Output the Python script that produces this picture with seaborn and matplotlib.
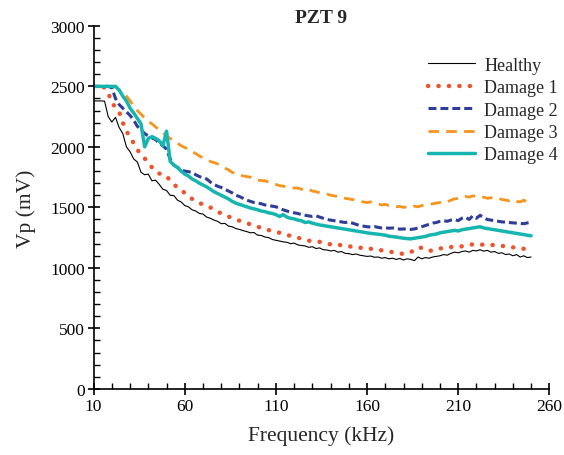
import numpy as np
import pandas as pd
import matplotlib
matplotlib.use("Agg")
import matplotlib.pyplot as plt
from matplotlib.ticker import MultipleLocator, FixedLocator
import seaborn as sns

# frequency axis, 2 kHz steps
freq = list(range(10, 252, 2))
xticks = [10, 60, 110, 160, 210, 260]

healthy = [2380, 2380, 2380, 2378, 2250, 2205, 2245, 2160, 2110, 2000,
           1960, 1900, 1875, 1790, 1770, 1775, 1720, 1725, 1690, 1650,
           1640, 1600, 1598, 1560, 1545, 1515, 1505, 1480, 1470, 1450,
           1445, 1420, 1410, 1395, 1385, 1365, 1368, 1345, 1340, 1325,
           1318, 1308, 1300, 1290, 1292, 1270, 1268, 1255, 1250, 1235,
           1228, 1222, 1215, 1212, 1200, 1205, 1190, 1185, 1182, 1170,
           1175, 1160, 1165, 1150, 1148, 1140, 1145, 1130, 1135, 1120,
           1118, 1110, 1115, 1105, 1100, 1095, 1098, 1088, 1090, 1080,
           1085, 1075, 1080, 1070, 1078, 1065, 1075, 1070, 1060, 1090,
           1075, 1085, 1080, 1090, 1095, 1100, 1110, 1105, 1120, 1130,
           1125, 1135, 1140, 1130, 1145, 1140, 1150, 1138, 1145, 1130,
           1135, 1120, 1125, 1110, 1115, 1100, 1110, 1090, 1100, 1085,
           1090]

damage1 = [2500, 2500, 2500, 2490, 2450, 2360, 2330, 2290, 2200, 2130,
           2080, 2030, 1975, 1940, 1905, 1870, 1830, 1795, 1780, 1770,
           1760, 1720, 1690, 1665, 1640, 1620, 1595, 1570, 1550, 1535,
           1525, 1510, 1500, 1480, 1465, 1450, 1438, 1425, 1410, 1400,
           1390, 1380, 1370, 1360, 1350, 1340, 1330, 1320, 1312, 1305,
           1298, 1290, 1280, 1272, 1265, 1260, 1250, 1240, 1232, 1225,
           1220, 1215, 1215, 1208, 1200, 1195, 1190, 1195, 1185, 1180,
           1178, 1175, 1170, 1165, 1170, 1160, 1158, 1155, 1150, 1145,
           1140, 1135, 1130, 1125, 1120, 1115, 1120, 1130, 1150, 1170,
           1165, 1150, 1140, 1145, 1150, 1160, 1165, 1170, 1172, 1175,
           1180, 1178, 1185, 1190, 1195, 1198, 1195, 1190, 1192, 1188,
           1190, 1185, 1180, 1182, 1175, 1170, 1165, 1160, 1158, 1155,
           1150]

damage2 = [2500, 2500, 2500, 2500, 2500, 2490, 2400, 2350, 2320, 2290,
           2260, 2220, 2170, 2140, 2110, 2090, 2075, 2060, 2030, 2010,
           1980, 1900, 1850, 1830, 1810, 1800, 1795, 1790, 1770, 1755,
           1745, 1735, 1710, 1690, 1675, 1665, 1650, 1635, 1620, 1600,
           1590, 1575, 1560, 1550, 1540, 1535, 1530, 1520, 1515, 1510,
           1505, 1490, 1480, 1470, 1460, 1455, 1450, 1440, 1435, 1430,
           1425, 1430, 1420, 1410, 1400, 1395, 1390, 1385, 1380, 1375,
           1380, 1370, 1360, 1350, 1345, 1340, 1338, 1342, 1335, 1330,
           1332, 1328, 1330, 1325, 1320, 1322, 1320, 1318, 1322, 1330,
           1340, 1350, 1360, 1370, 1375, 1385, 1390, 1385, 1395, 1400,
           1390, 1410, 1420, 1400, 1430, 1410, 1435, 1415, 1400, 1395,
           1390, 1385, 1380, 1378, 1375, 1372, 1370, 1368, 1365, 1372,
           1375]

damage3 = [2500, 2500, 2500, 2500, 2500, 2500, 2495, 2470, 2450, 2420,
           2380, 2340, 2300, 2270, 2240, 2210, 2190, 2165, 2140, 2115,
           2090, 2070, 2050, 2030, 2010, 1995, 1980, 1960, 1945, 1925,
           1910, 1895, 1880, 1870, 1860, 1840, 1825, 1810, 1790, 1780,
           1770, 1760, 1755, 1750, 1735, 1725, 1722, 1720, 1710, 1700,
           1690, 1680, 1675, 1670, 1665, 1660, 1660, 1650, 1640, 1650,
           1635, 1630, 1620, 1615, 1610, 1600, 1595, 1590, 1580, 1575,
           1570, 1565, 1560, 1550, 1545, 1540, 1545, 1535, 1530, 1520,
           1525, 1515, 1510, 1505, 1508, 1500, 1505, 1498, 1510, 1505,
           1515, 1520, 1525, 1530, 1535, 1540, 1550, 1545, 1560, 1570,
           1575, 1580, 1590, 1585, 1595, 1590, 1580, 1585, 1575, 1580,
           1570, 1575, 1565, 1560, 1555, 1565, 1550, 1545, 1560, 1540,
           1520]

damage4 = [2500, 2500, 2500, 2500, 2500, 2500, 2500, 2470, 2420, 2380,
           2320, 2280, 2235, 2190, 2000, 2070, 2085, 2070, 2050, 2010,
           2130, 1880, 1850, 1830, 1800, 1775, 1760, 1735, 1720, 1700,
           1685, 1670, 1650, 1630, 1615, 1600, 1585, 1570, 1550, 1535,
           1525, 1515, 1505, 1495, 1488, 1480, 1470, 1465, 1455, 1450,
           1440, 1425, 1440, 1420, 1410, 1405, 1395, 1390, 1375, 1380,
           1370, 1362, 1355, 1350, 1345, 1340, 1335, 1330, 1325, 1320,
           1315, 1310, 1305, 1300, 1295, 1290, 1285, 1282, 1278, 1275,
           1270, 1262, 1258, 1255, 1250, 1245, 1242, 1240, 1245, 1250,
           1255, 1260, 1270, 1275, 1280, 1290, 1295, 1300, 1305, 1310,
           1305, 1315, 1320, 1325, 1330, 1335, 1340, 1330, 1325, 1320,
           1315, 1310, 1305, 1300, 1295, 1290, 1285, 1280, 1275, 1270,
           1265]

sns.set_style("ticks")
plt.rcParams['font.family'] = ['Liberation Serif', 'DejaVu Serif']
plt.rcParams['xtick.direction'] = 'in'
plt.rcParams['ytick.direction'] = 'in'
plt.rcParams['xtick.minor.visible'] = True
plt.rcParams['ytick.minor.visible'] = True

fig = plt.figure(figsize=(5.64, 4.56), dpi=100)
ax = fig.add_axes([0.166, 0.145, 0.808, 0.796])

sns.lineplot(x=freq, y=healthy, ax=ax, color="black", lw=0.8, label="Healthy")
sns.lineplot(x=freq, y=damage1, ax=ax, color="#F0522B", lw=3.2,
             linestyle=(0, (0.05, 2.3)), dash_capstyle="round", label="Damage 1")
sns.lineplot(x=freq, y=damage2, ax=ax, color="#2E3D98", lw=2.2,
             linestyle=(0, (2.6, 1.3)), label="Damage 2")
sns.lineplot(x=freq, y=damage3, ax=ax, color="#F7941D", lw=2.0,
             linestyle=(0, (3.8, 2.6)), label="Damage 3")
sns.lineplot(x=freq, y=damage4, ax=ax, color="#17B5B0", lw=2.5, label="Damage 4")

ax.set_xlim(10, 260)
ax.set_ylim(0, 3000)
ax.xaxis.set_major_locator(FixedLocator(xticks))
ax.xaxis.set_minor_locator(MultipleLocator(10))
ax.yaxis.set_major_locator(MultipleLocator(500))
ax.yaxis.set_minor_locator(MultipleLocator(100))
ax.tick_params(which="major", direction="inout", length=9, width=1.2,
               labelsize=12.5, colors="black", pad=2)
ax.tick_params(which="minor", direction="in", length=4, width=1.0, colors="black")
for s in ["top", "right"]:
    ax.spines[s].set_visible(False)
for s in ["left", "bottom"]:
    ax.spines[s].set_linewidth(1.2)
    ax.spines[s].set_color("black")

ax.set_xlabel("Frequency (kHz)", fontsize=15.5, labelpad=8)
ax.set_ylabel("Vp (mV)", fontsize=15.5, labelpad=10)
ax.set_title("PZT 9", fontsize=14, fontweight="bold", pad=2)
ax.legend(loc="upper right", frameon=False, fontsize=13, handlelength=2.6,
          labelspacing=0.3, borderaxespad=0.0, handletextpad=0.5,
          bbox_to_anchor=(1.035, 0.935))

fig.savefig("out.png", dpi=100)
